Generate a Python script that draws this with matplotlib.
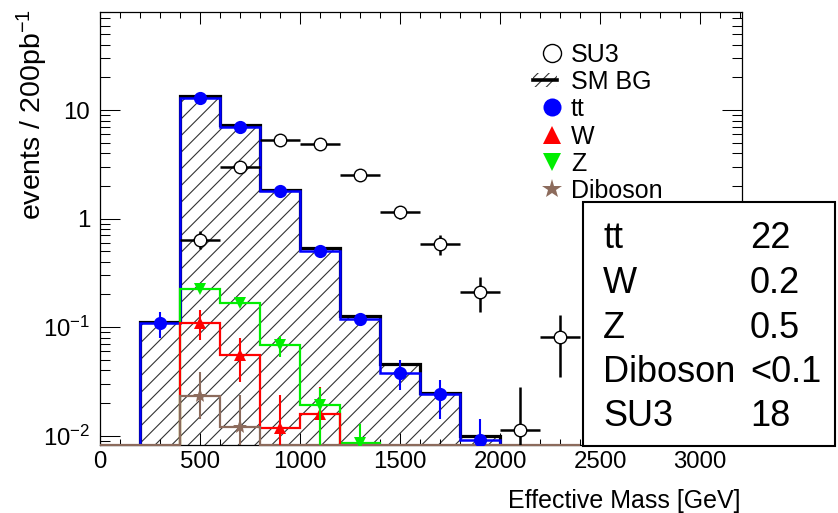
import numpy as np
import matplotlib
matplotlib.use("Agg")
import matplotlib.pyplot as plt
from matplotlib.patches import Rectangle
from matplotlib.lines import Line2D
from matplotlib.ticker import MultipleLocator, LogLocator, FixedLocator, FixedFormatter, NullFormatter

plt.rcParams["font.family"] = ["Liberation Sans", "DejaVu Sans"]
plt.rcParams["mathtext.fontset"] = "custom"
plt.rcParams["mathtext.rm"] = "Liberation Sans"
plt.rcParams["mathtext.it"] = "Liberation Sans:italic"
plt.rcParams["mathtext.bf"] = "Liberation Sans:bold"
plt.rcParams["mathtext.default"] = "regular"
plt.rcParams["hatch.linewidth"] = 0.8

# ---------------------------------------------------------------- data
bin_edges = [0, 200, 400, 600, 800, 1000, 1200, 1400, 1600, 1800, 2000, 2200, 2400]

sm_bg = [0, 0.112, 13.5, 7.3, 1.85, 0.535, 0.127, 0.0455, 0.0245, 0.0100, 0, 0]

tt = [0, 0.11, 13.0, 7.0, 1.78, 0.50, 0.118, 0.038, 0.024, 0.0091, 0, 0]
tt_err_lo = [0, 0.030, 0.6, 0.45, 0.15, 0.05, 0.012, 0.0114, 0.0097, 0.0055, 0, 0]
tt_err_hi = [0, 0.027, 0.6, 0.45, 0.15, 0.05, 0.012, 0.0120, 0.0085, 0.0052, 0, 0]

w_jets = [0, 0, 0.11, 0.055, 0.0117, 0.0157, 0, 0, 0, 0, 0, 0]
w_err_lo = [0, 0, 0.034, 0.0235, 0.006, 0.008, 0, 0, 0, 0, 0, 0]
w_err_hi = [0, 0, 0.035, 0.0245, 0.0118, 0.0126, 0, 0, 0, 0, 0, 0]

z_jets = [0, 0, 0.224, 0.168, 0.069, 0.019, 0.0085, 0, 0, 0, 0, 0]
z_err_lo = [0, 0, 0.02, 0.015, 0.0155, 0.0115, 0.005, 0, 0, 0, 0, 0]
z_err_hi = [0, 0, 0.02, 0.015, 0.0135, 0.0083, 0.0043, 0, 0, 0, 0, 0]

diboson = [0, 0, 0.0232, 0.0121, 0, 0, 0, 0, 0, 0, 0, 0]
db_err_lo = [0, 0, 0.009, 0.008, 0, 0, 0, 0, 0, 0, 0, 0]
db_err_hi = [0, 0, 0.015, 0.0118, 0, 0, 0, 0, 0, 0, 0, 0]

su3 = [0, 0, 0.64, 2.98, 5.28, 4.82, 2.51, 1.15, 0.587, 0.21, 0.0113, 0.081]
su3_err_lo = [0, 0, 0.12, 0.25, 0.35, 0.33, 0.24, 0.16, 0.125, 0.071, 0.008, 0.046]
su3_err_hi = [0, 0, 0.12, 0.25, 0.35, 0.33, 0.24, 0.16, 0.120, 0.078, 0.017, 0.047]

legend_labels = ["SU3", "SM BG", "tt", "W", "Z", "Diboson"]
table_labels = ["tt", "W", "Z", "Diboson", "SU3"]
table_values = ["22", "0.2", "0.5", "<0.1", "18"]

x_label = "Effective Mass [GeV]"
y_label = "events / 200pb$^{-1}$"
y_tick_values = [0.01, 0.1, 1, 10]
y_tick_labels = ["$10^{-2}$", "$10^{-1}$", "1", "10"]

# ---------------------------------------------------------------- styles
C_TT = "#0000ff"
C_W = "#ff0000"
C_Z = "#00ee00"
C_DB = "#8c6b5c"
C_SM = "#000000"

XMIN, XMAX = 0, 3210
YMIN, YMAX = 0.0082, 80.0

W_PX, H_PX, DPI = 838, 513, 100
AX_L, AX_R, AX_T, AX_B = 100, 742, 12, 445


def fx(px):
    return px / W_PX


def fy(py):
    return 1 - py / H_PX


fig = plt.figure(figsize=(W_PX / DPI, H_PX / DPI), dpi=DPI)
ax = fig.add_axes([fx(AX_L), fy(AX_B), (AX_R - AX_L) / W_PX, (AX_B - AX_T) / H_PX])
ax.set_yscale("log")
ax.set_xlim(XMIN, XMAX)
ax.set_ylim(YMIN, YMAX)

edges = np.asarray(bin_edges, dtype=float)
centers = 0.5 * (edges[:-1] + edges[1:])


def floor(vals, level):
    v = np.asarray(vals, dtype=float)
    return np.where(v > 0, v, level)


LOW = YMIN * 0.5

# SM background: hatched area with black outline
ax.stairs(floor(sm_bg, LOW), edges, baseline=LOW, fill=True,
          facecolor="none", edgecolor="#333333", hatch="//", linewidth=0, zorder=1)
ax.stairs(floor(sm_bg, LOW), edges, baseline=None, color=C_SM, linewidth=2.3, zorder=2)

# individual background histograms
ax.stairs(floor(tt, LOW), edges, baseline=None, color=C_TT, linewidth=1.8, zorder=3)
ax.stairs(floor(z_jets, LOW), edges, baseline=None, color=C_Z, linewidth=1.6, zorder=3.1)
ax.stairs(floor(w_jets, LOW), edges, baseline=None, color=C_W, linewidth=1.6, zorder=3.2)
ax.stairs(floor(diboson, YMIN), edges, baseline=None, color=C_DB, linewidth=1.6,
          zorder=3.3, clip_on=False)


def points(vals, lo, hi, color, marker, ms, z):
    v = np.asarray(vals, dtype=float)
    m = v > 0
    ax.errorbar(centers[m], v[m],
                yerr=[np.asarray(lo)[m], np.asarray(hi)[m]],
                fmt=marker, color=color, ms=ms, mew=0, elinewidth=1.5,
                capsize=0, zorder=z)


points(tt, tt_err_lo, tt_err_hi, C_TT, "o", 9.5, 4)
points(w_jets, w_err_lo, w_err_hi, C_W, "^", 9, 4.1)
points(z_jets, z_err_lo, z_err_hi, C_Z, "v", 9, 4.2)
points(diboson, db_err_lo, db_err_hi, C_DB, "*", 11, 4.3)

# SU3 signal
s = np.asarray(su3, dtype=float)
ms3 = s > 0
ax.errorbar(centers[ms3], s[ms3],
            xerr=100,
            yerr=[np.asarray(su3_err_lo)[ms3], np.asarray(su3_err_hi)[ms3]],
            fmt="o", ms=9, mfc="white", mec="black", mew=1.0,
            ecolor="black", elinewidth=1.8, capsize=0, zorder=5)

# ---------------------------------------------------------------- axes
ax.xaxis.set_major_locator(MultipleLocator(500))
ax.xaxis.set_minor_locator(MultipleLocator(100))
ax.yaxis.set_major_locator(FixedLocator(y_tick_values))
ax.yaxis.set_major_formatter(FixedFormatter(y_tick_labels))
ax.yaxis.set_minor_locator(LogLocator(base=10, subs=np.arange(2, 10)))
ax.yaxis.set_minor_formatter(NullFormatter())

ax.tick_params(which="both", direction="in", top=True, right=True, width=0.75,
               labelsize=17.3, colors="black")
ax.tick_params(axis="x", which="major", length=8.6, pad=4.5)
ax.tick_params(axis="x", which="minor", length=4.3)
ax.tick_params(axis="y", which="major", length=14.4, pad=7.0)
ax.tick_params(axis="y", which="minor", length=7.2)
for sp in ax.spines.values():
    sp.set_linewidth(0.9)
    sp.set_color("black")

ax.set_xlabel(x_label, fontsize=18, loc="right")
ax.xaxis.set_label_coords((740 - AX_L) / (AX_R - AX_L), (AX_B - 508) / (AX_B - AX_T))
ax.xaxis.label.set_va("baseline")

ax.set_ylabel(y_label, fontsize=20.5, loc="top")
ax.yaxis.set_label_coords((32 - AX_L) / (AX_R - AX_L), (AX_B - 9) / (AX_B - AX_T))
ax.yaxis.label.set_va("center")

# ---------------------------------------------------------------- legend
leg_mx, leg_tx = 552, 571
leg_base0, leg_step = 61.7, 27.3
leg_styles = [
    dict(marker="o", ms=13, mfc="white", mec="black", mew=1.0),
    None,
    dict(marker="o", ms=13, mfc=C_TT, mec=C_TT, mew=0),
    dict(marker="^", ms=13, mfc=C_W, mec=C_W, mew=0),
    dict(marker="v", ms=13, mfc=C_Z, mec=C_Z, mew=0),
    dict(marker="*", ms=15, mfc=C_DB, mec=C_DB, mew=0),
]
for i, (lab, sty) in enumerate(zip(legend_labels, leg_styles)):
    base = leg_base0 + i * leg_step
    yc = base - 9
    if sty is None:
        fig.add_artist(Rectangle((fx(533), fy(yc + 7)), 24 / W_PX, 14 / H_PX,
                                 transform=fig.transFigure, facecolor="none",
                                 edgecolor="#333333", hatch="///", linewidth=0))
        fig.add_artist(Line2D([fx(533), fx(557)], [fy(yc), fy(yc)],
                              transform=fig.transFigure, color="black", linewidth=2.6))
    else:
        fig.add_artist(Line2D([fx(leg_mx)], [fy(yc)], transform=fig.transFigure,
                              linestyle="none", **sty))
    fig.text(fx(leg_tx), fy(base), lab, fontsize=18, ha="left", va="baseline")

# ---------------------------------------------------------------- yield table
box_l, box_r, box_t, box_b = 582.7, 835, 201.7, 446
fig.add_artist(Rectangle((fx(box_l), fy(box_b)), (box_r - box_l) / W_PX,
                         (box_b - box_t) / H_PX, transform=fig.transFigure,
                         facecolor="white", edgecolor="black", linewidth=1.5,
                         zorder=10))
tab_base0, tab_step = 248.5, 44.5
for i, (lab, val) in enumerate(zip(table_labels, table_values)):
    base = tab_base0 + i * tab_step
    fig.text(fx(603), fy(base), lab, fontsize=26, ha="left", va="baseline", zorder=11)
    fig.text(fx(750), fy(base), val, fontsize=26, ha="left", va="baseline", zorder=11)

fig.savefig("out.png", dpi=DPI)
